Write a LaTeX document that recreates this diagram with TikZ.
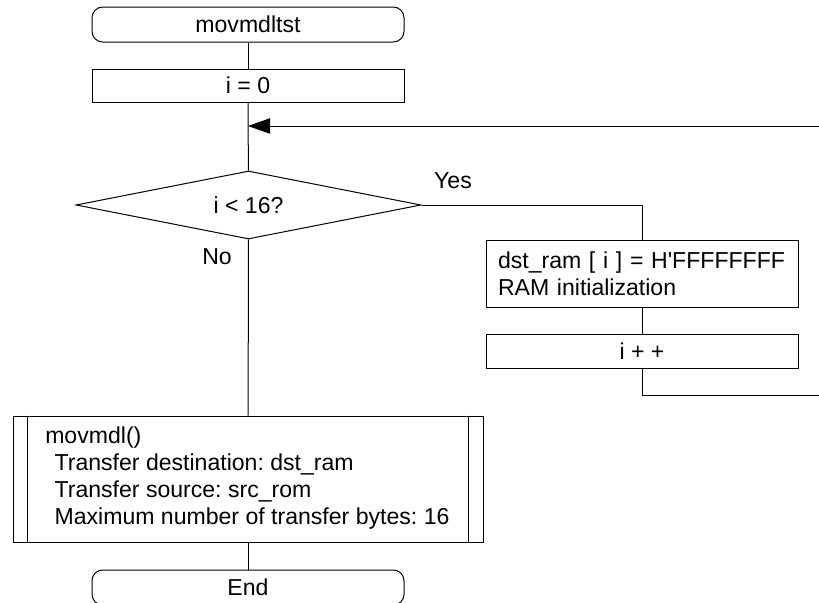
\documentclass[tikz,border=0pt]{standalone}
\usepackage{fontspec}
\setmainfont{Liberation Sans}
\usetikzlibrary{shapes.geometric,arrows.meta}

\begin{document}
\begin{tikzpicture}[x=0.75pt,y=-0.75pt,
  every node/.style={font=\fontsize{17.3}{20.2}\selectfont\frenchspacing},
  conn/.style={draw=black,line width=0.75pt},
  terminal/.style={conn,rectangle,rounded corners=8pt,minimum width=234pt,minimum height=26.25pt,inner sep=0pt},
  procbox/.style={conn,rectangle,minimum width=234pt,inner sep=0pt},
  decision/.style={conn,diamond,aspect=5.07,minimum width=258.75pt,minimum height=51pt,inner sep=0pt},
  label/.style={inner sep=0pt}]

% canvas
\useasboundingbox (0,0) rectangle (819,603);
\clip (0,0) rectangle (819,603);

% main column
\node[terminal] (start) at (248,24.5) {movmdltst};
\node[procbox,minimum height=24.75pt] (init) at (248,85.5) {i = 0};
\coordinate (merge) at (248,126);
\node[decision] (test) at (248.5,205) {i < 16?};
\node[procbox,minimum width=352.5pt,minimum height=94.5pt] (call) at (248,479) {};
\node[label,align=left,anchor=north west] (calltext) at (45,426.5)
  {movmdl()\\
   \hspace*{7pt}Transfer destination: dst\_ram\\
   \hspace*{7pt}Transfer source: src\_rom\\
   \hspace*{7pt}Maximum number of transfer bytes: 16};
\node[terminal] (stop) at (248,587.5) {End};

% predefined-process side bars
\draw[conn] ([xshift=11.25pt]call.north west) -- ([xshift=11.25pt]call.south west);
\draw[conn] ([xshift=-11.25pt]call.north east) -- ([xshift=-11.25pt]call.south east);

% loop body
\node[procbox,minimum height=50.25pt,inner xsep=9pt,text width=216pt,align=left] (fill) at (642,273.5)
  {dst\_ram [ i ] = H\textquotesingle FFFFFFFF\\RAM initialization};
\node[procbox,minimum height=25.5pt] (incr) at (642,351) {i + +};

% loop return (runs past the right edge)
\coordinate (retlow) at (819,395);
\coordinate (rethigh) at (819,126);

% connectors
\draw[conn] (start) -- (init);
\draw[conn] (init) -- (test);
\draw[conn] (test) -- (call);
\draw[conn] (call) -- (stop);
\draw[conn] (test.east) -| (fill.north);
\draw[conn] (fill) -- (incr);
\draw[conn] (incr.south) |- (retlow);
\draw[conn,-{Triangle[length=16.5pt,width=11.5pt]}] (rethigh) -- (merge);

% branch labels
\node[label] (yes) at (453,181) {Yes};
\node[label] (no) at (217,257) {No};
\end{tikzpicture}
\end{document}
